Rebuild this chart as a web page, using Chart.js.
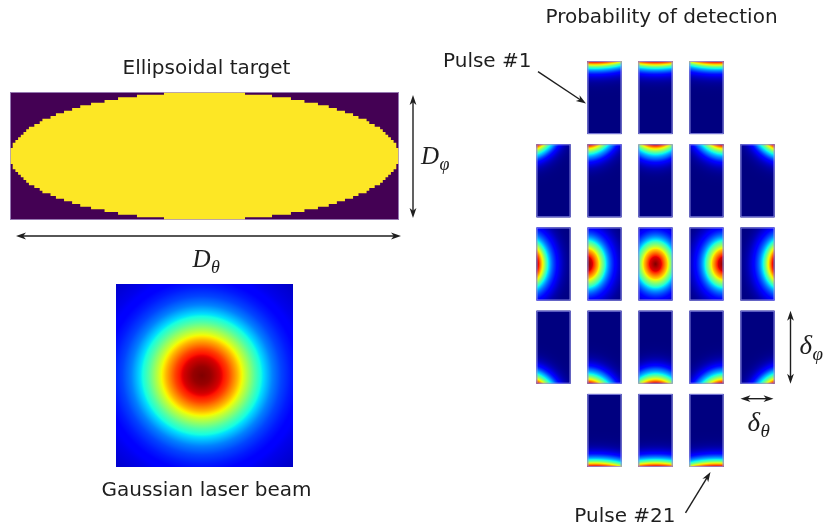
<!DOCTYPE html>
<html><head><meta charset="utf-8">
<script src="https://cdn.jsdelivr.net/npm/chart.js@4.4.1/dist/chart.umd.min.js"></script>
<style>
html,body{margin:0;padding:0;background:#fff;}
#wrap{position:relative;width:827px;height:529px;overflow:hidden;background:#fff;}
#wrap canvas{position:absolute;left:0;top:0;}
</style></head><body>
<div id="wrap">
<canvas id="c1" width="827" height="529"></canvas>
<canvas id="c2" width="827" height="529"></canvas>
<canvas id="c3" width="827" height="529"></canvas>
</div>
<script>
// ---------- Ellipsoidal target (pixelated ellipse, column / row grid units) ----------
const ellipseStepX = [-72,-71,-70,-69,-68,-67,-66,-65,-63,-61,-60,-57,-55,-52,-49,-46,-42,-37,-32,-25,-15,
                      15,25,32,37,42,46,49,52,55,57,60,61,63,65,66,67,68,69,70,71,72];
const ellipseUpper = [3,5,6,7,8,9,10,11,12,13,14,15,16,17,18,19,20,21,22,23,24,
                      23,22,21,20,19,18,17,16,15,14,13,12,11,10,9,8,7,6,5,3,3];
const ellipseLower = [-3,-5,-6,-7,-8,-9,-10,-11,-12,-13,-14,-15,-16,-17,-18,-19,-20,-21,-22,-23,-24,
                      -23,-22,-21,-20,-19,-18,-17,-16,-15,-14,-13,-12,-11,-10,-9,-8,-7,-6,-5,-3,-3];

// ---------- Gaussian laser beam (radial intensity profile, units of half beam width) ----------
const beamCenter = [-0.03, 0.0];
const beamRadius = [0, 0.1, 0.2, 0.3, 0.4, 0.5, 0.6, 0.7, 0.8, 0.9, 1.0, 1.1, 1.2, 1.3, 1.45];
const beamLevel  = [1.0, 0.98, 0.93, 0.84, 0.72, 0.58, 0.45, 0.34, 0.25, 0.19, 0.15, 0.12, 0.095, 0.08, 0.06];

// ---------- Probability of detection: 21 pulses ----------
const pulseNumber = [1,2,3,4,5,6,7,8,9,10,11,12,13,14,15,16,17,18,19,20,21];
const pulseCol = [-1,0,1, -2,-1,0,1,2, -2,-1,0,1,2, -2,-1,0,1,2, -1,0,1];
const pulseRow = [-2,-2,-2, -1,-1,-1,-1,-1, 0,0,0,0,0, 1,1,1,1,1, 2,2,2];
// beam centre relative to tile centre (x: tile half-widths, y: tile half-heights)
const beamOffsetX = [-0.59,0,0.59, -1.59,-1.06,0,1.03,1.59, -1.59,-1.06,0,1.03,1.59, -1.59,-1.06,0,1.03,1.59, -0.59,0,0.59];
const beamOffsetY = [-2.1,-2.1,-2.1, -1.79,-1.79,-1.79,-1.79,-1.79, 0,0,0,0,0, 1.79,1.79,1.79,1.79,1.79, 2.1,2.1,2.1];
const rowStretch  = [1.6, 0.85, 0.8, 0.85, 1.6];
// detection probability fall-off (log10) vs distance in tile half-heights
const detectR     = [0, 0.2, 0.4, 0.6, 0.8, 1.0, 1.2, 1.4, 1.6, 1.8, 2.0, 2.4, 2.8, 3.2, 3.6];
const detectLog10 = [0, -0.04, -0.16, -0.36, -0.65, -0.95, -1.3, -1.8, -2.4, -3.1, -3.9, -5.6, -7.7, -10.2, -13.0];

// ---------- helpers ----------
const TEXT_FONT = '"DejaVu Sans", Verdana, sans-serif';
const MATH_FONT = '"Liberation Serif", "DejaVu Serif", serif';
const INK = '#1e1e1e';
const NAVY = 'rgb(0,0,128)';
const TILE_HW = 17/51;      // tile half-width in column units
const TILE_HH = 36.5/83.2;  // tile half-height in row units

function lerp(xs, ys, x){
  if (x <= xs[0]) return ys[0];
  for (let i=1;i<xs.length;i++){
    if (x <= xs[i]) return ys[i-1] + (ys[i]-ys[i-1])*(x-xs[i-1])/(xs[i]-xs[i-1]);
  }
  return ys[ys.length-1];
}
function jet(v){
  v = Math.max(0, Math.min(1, v));
  const f = pts => lerp(pts.map(p=>p[0]), pts.map(p=>p[1]), v);
  const r = f([[0,0],[0.35,0],[0.66,1],[0.89,1],[1,0.5]]);
  const g = f([[0,0],[0.125,0],[0.375,1],[0.64,1],[0.91,0],[1,0]]);
  const b = f([[0,0.5],[0.11,1],[0.34,1],[0.65,0],[1,0]]);
  return 'rgb(' + Math.round(r*255) + ',' + Math.round(g*255) + ',' + Math.round(b*255) + ')';
}
const finite = (...v) => v.every(Number.isFinite);
function arrowHead(ctx, x0, y0, x1, y1){
  const a = Math.atan2(y1-y0, x1-x0), len = 10, half = 3.4;
  ctx.save(); ctx.translate(x1, y1); ctx.rotate(a);
  ctx.beginPath(); ctx.moveTo(0,0); ctx.lineTo(-len,-half); ctx.lineTo(-len*0.72,0); ctx.lineTo(-len,half);
  ctx.closePath(); ctx.fill(); ctx.restore();
}
function arrow(ctx, x0, y0, x1, y1, both){
  ctx.save();
  ctx.strokeStyle = INK; ctx.fillStyle = INK; ctx.lineWidth = 1.4;
  const a = Math.atan2(y1-y0, x1-x0), k = 6;
  const sx0 = both ? x0 + Math.cos(a)*k : x0, sy0 = both ? y0 + Math.sin(a)*k : y0;
  ctx.beginPath(); ctx.moveTo(sx0, sy0); ctx.lineTo(x1 - Math.cos(a)*k, y1 - Math.sin(a)*k); ctx.stroke();
  arrowHead(ctx, x0, y0, x1, y1);
  if (both) arrowHead(ctx, x1, y1, x0, y0);
  ctx.restore();
}
function text(ctx, s, x, y, align){
  ctx.save(); ctx.fillStyle = INK; ctx.font = '20px ' + TEXT_FONT;
  ctx.textAlign = align || 'center'; ctx.textBaseline = 'alphabetic';
  ctx.fillText(s, x, y); ctx.restore();
}
function mathLabel(ctx, main, sub, x, y, size){
  ctx.save(); ctx.fillStyle = INK; ctx.textAlign = 'left'; ctx.textBaseline = 'alphabetic';
  ctx.font = 'italic ' + size + 'px ' + MATH_FONT;
  ctx.fillText(main, x, y);
  const w = ctx.measureText(main).width;
  ctx.font = 'italic ' + Math.round(size*0.7) + 'px ' + MATH_FONT;
  ctx.fillText(sub, x + w + 0.5, y + size*0.22);
  ctx.restore();
}
const baseOptions = (padding, xr, yr, yrev) => ({
  responsive:false, animation:false, events:[], devicePixelRatio:1,
  layout:{padding},
  scales:{
    x:{type:'linear', min:xr[0], max:xr[1], display:false},
    y:{type:'linear', min:yr[0], max:yr[1], display:false, reverse:!!yrev}
  },
  plugins:{legend:{display:false}, tooltip:{enabled:false}, title:{display:false}}
});

// ---------- Chart 1 : ellipsoidal target ----------
new Chart(document.getElementById('c1'), {
  type:'line',
  data:{datasets:[
    {data: ellipseStepX.map((x,i)=>({x, y: ellipseUpper[i]})), stepped:true, fill:'+1',
     backgroundColor:'#fde725', borderColor:'rgba(0,0,0,0)', borderWidth:0, pointRadius:0, tension:0},
    {data: ellipseStepX.map((x,i)=>({x, y: ellipseLower[i]})), stepped:true, fill:false,
     backgroundColor:'#fde725', borderColor:'rgba(0,0,0,0)', borderWidth:0, pointRadius:0, tension:0}
  ]},
  options: baseOptions({left:10, top:92, right:428, bottom:309}, [-72,72], [-24,24]),
  plugins:[{
    id:'ellipseDeco',
    beforeDatasetsDraw(chart){
      const a = chart.chartArea, ctx = chart.ctx;
      ctx.save(); ctx.fillStyle = '#440154'; ctx.fillRect(a.left, a.top, a.right-a.left, a.bottom-a.top); ctx.restore();
    },
    afterDraw(chart){
      const a = chart.chartArea, ctx = chart.ctx;
      ctx.save(); ctx.strokeStyle = 'rgba(170,150,200,0.8)'; ctx.lineWidth = 1;
      ctx.strokeRect(a.left+0.5, a.top+0.5, a.right-a.left-1, a.bottom-a.top-1); ctx.restore();
      const cx = (a.left + a.right)/2;
      text(ctx, 'Ellipsoidal target', cx + 2, a.top - 18);
      arrow(ctx, a.left + 6, a.bottom + 16, a.right + 2, a.bottom + 16, true);
      arrow(ctx, a.right + 14, a.top + 3, a.right + 14, a.bottom - 2, true);
      mathLabel(ctx, 'D', '\u03B8', cx - 12, a.bottom + 47, 25);
      mathLabel(ctx, 'D', '\u03C6', a.right + 22, (a.top + a.bottom)/2 + 8, 25);
    }
  }]
});

// ---------- Chart 2 : Gaussian laser beam ----------
new Chart(document.getElementById('c2'), {
  type:'scatter',
  data:{datasets:[{
    data:[{x: beamCenter[0], y: beamCenter[1]}],
    showLine:false, clip:0, pointBorderWidth:0, pointBorderColor:'rgba(0,0,0,0)', pointHoverRadius:0,
    pointRadius: c => {
      const s = c.chart.scales.x; if (!s) return 0;
      const v = Math.abs(s.getPixelForValue(beamRadius[beamRadius.length-1]) - s.getPixelForValue(0));
      return Number.isFinite(v) ? v : 0;
    },
    pointBackgroundColor: c => {
      const ch = c.chart, sx = ch.scales.x, sy = ch.scales.y;
      if (!c.raw || !sx || !sy) return NAVY;
      const cx = sx.getPixelForValue(c.raw.x), cy = sy.getPixelForValue(c.raw.y);
      const unit = Math.abs(sx.getPixelForValue(1) - sx.getPixelForValue(0));
      if (!finite(cx, cy, unit) || unit <= 0) return NAVY;
      const Rmax = beamRadius[beamRadius.length-1];
      const g = ch.ctx.createRadialGradient(cx, cy, 0, cx, cy, Rmax*unit);
      const N = 200;
      for (let k=0;k<=N;k++) g.addColorStop(k/N, jet(lerp(beamRadius, beamLevel, Rmax*k/N)));
      return g;
    }
  }]},
  options: baseOptions({left:116, top:284, right:534, bottom:62}, [-1,1], [-1,1]),
  plugins:[{
    id:'beamDeco',
    beforeDatasetsDraw(chart){
      const a = chart.chartArea, ctx = chart.ctx;
      ctx.save(); ctx.fillStyle = jet(beamLevel[beamLevel.length-1]); ctx.fillRect(a.left, a.top, a.right-a.left, a.bottom-a.top); ctx.restore();
    },
    afterDraw(chart){
      const a = chart.chartArea, ctx = chart.ctx;
      text(ctx, 'Gaussian laser beam', (a.left + a.right)/2 + 2, a.bottom + 29);
    }
  }]
});

// ---------- Chart 3 : probability of detection ----------
function tileGeom(chart, i){
  const sx = chart.scales.x, sy = chart.scales.y;
  if (!sx || !sy) return null;
  const x0 = sx.getPixelForValue(pulseCol[i]-TILE_HW), x1 = sx.getPixelForValue(pulseCol[i]+TILE_HW);
  const y0 = sy.getPixelForValue(pulseRow[i]-TILE_HH), y1 = sy.getPixelForValue(pulseRow[i]+TILE_HH);
  const cx = sx.getPixelForValue(pulseCol[i] + beamOffsetX[i]*TILE_HW);
  const cy = sy.getPixelForValue(pulseRow[i] + beamOffsetY[i]*TILE_HH);
  if (!finite(x0, x1, y0, y1, cx, cy) || y0 === y1) return null;
  return {l:Math.min(x0,x1), r:Math.max(x0,x1), t:Math.min(y0,y1), b:Math.max(y0,y1),
          cx, cy, unit:Math.abs(y1-y0)/2, s:rowStretch[pulseRow[i]+2]};
}
function detectGradient(ctx, g){
  const nx = Math.min(Math.max(g.cx, g.l), g.r) - g.cx;
  const ny = Math.min(Math.max(g.cy, g.t), g.b) - g.cy;
  const dn = Math.hypot(nx/g.s, ny)/g.unit;
  const logMax = lerp(detectR, detectLog10, dn);
  const Rmax = detectR[detectR.length-1];
  const grad = ctx.createRadialGradient(g.cx, g.cy, 0, g.cx, g.cy, Rmax*g.unit);
  const N = 260;
  for (let k=0;k<=N;k++){
    const r = Rmax*k/N;
    grad.addColorStop(k/N, jet(Math.pow(10, lerp(detectR, detectLog10, r) - logMax)));
  }
  return grad;
}
const tileDatasets = pulseNumber.map((p, i) => ({
  label: 'Pulse #' + p,
  data: [{x: pulseCol[i] + beamOffsetX[i]*TILE_HW, y: pulseRow[i] + beamOffsetY[i]*TILE_HH}],
  showLine:false, clip:false, pointBorderWidth:0, pointBorderColor:'rgba(0,0,0,0)', pointHoverRadius:0,
  pointRadius: c => { const g = tileGeom(c.chart, c.datasetIndex); return g ? g.unit * detectR[detectR.length-1] : 0; },
  pointBackgroundColor: c => { const g = c.raw ? tileGeom(c.chart, c.datasetIndex) : null; return g ? detectGradient(c.chart.ctx, g) : NAVY; }
}));
new Chart(document.getElementById('c3'), {
  type:'scatter',
  data:{datasets: tileDatasets},
  options: baseOptions({left:528, top:56, right:44, bottom:57}, [-2.5,2.5], [-2.5,2.5], true),
  plugins:[{
    id:'tiles',
    beforeDatasetDraw(chart, args){
      const g = tileGeom(chart, args.index), ctx = chart.ctx;
      ctx.save();
      if (!g) return;
      ctx.fillStyle = NAVY;
      ctx.fillRect(g.l, g.t, g.r-g.l, g.b-g.t);
      ctx.beginPath(); ctx.rect(g.l, g.t, g.r-g.l, g.b-g.t); ctx.clip();
      ctx.translate(g.cx, 0); ctx.scale(g.s, 1); ctx.translate(-g.cx, 0);
    },
    afterDatasetDraw(chart, args){
      const g = tileGeom(chart, args.index), ctx = chart.ctx;
      ctx.restore();
      if (!g) return;
      ctx.save(); ctx.strokeStyle = 'rgba(150,150,235,0.85)'; ctx.lineWidth = 1;
      ctx.strokeRect(g.l+0.5, g.t+0.5, g.r-g.l-1, g.b-g.t-1); ctx.restore();
    },
    afterDraw(chart){
      const ctx = chart.ctx, a = chart.chartArea;
      text(ctx, 'Probability of detection', chart.scales.x.getPixelForValue(0) + 6, a.top - 33);
      const first = tileGeom(chart, 0);
      text(ctx, 'Pulse #1', first.l - 56, first.t + 6, 'right');
      arrow(ctx, first.l - 49.5, first.t + 10.5, first.l - 1.5, first.t + 42.5, false);
      const last = tileGeom(chart, pulseNumber.length - 1);
      text(ctx, 'Pulse #21', last.l - 14, last.b + 55, 'right');
      arrow(ctx, last.l - 4, last.b + 46, last.l + 21, last.b + 5, false);
      const ref = tileGeom(chart, 17);
      arrow(ctx, ref.r + 16, ref.t, ref.r + 16, ref.b, true);
      mathLabel(ctx, '\u03B4', '\u03C6', ref.r + 25, (ref.t + ref.b)/2 + 7, 27);
      arrow(ctx, ref.l, ref.b + 15, ref.r - 1, ref.b + 15, true);
      mathLabel(ctx, '\u03B4', '\u03B8', ref.l + 7, ref.b + 47, 27);
    }
  }]
});
</script>
</body></html>
